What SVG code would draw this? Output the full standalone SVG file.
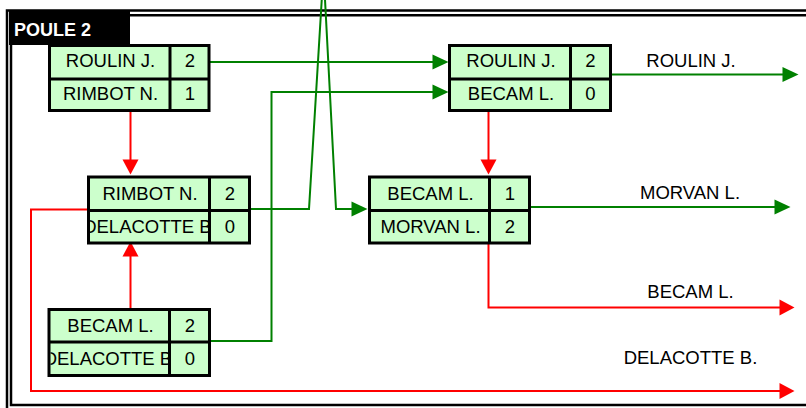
<svg xmlns="http://www.w3.org/2000/svg" width="806" height="408" viewBox="0 0 806 408">
<style>
.frame{fill:none;stroke:#000;stroke-width:2.5}
.cell{fill:#CCFFCC;stroke:#000;stroke-width:3}
.div{stroke:#000;stroke-width:3}
.t{font-family:"Liberation Sans",Arial,sans-serif;font-size:18.5px;fill:#000;text-anchor:middle}
.lbl{font-family:"Liberation Sans",Arial,sans-serif;font-size:18.5px;fill:#000;text-anchor:middle}
.title{font-family:"Liberation Sans",Arial,sans-serif;font-size:18px;font-weight:bold;fill:#fff}
.g{fill:none;stroke:#008000;stroke-width:2;marker-end:url(#ag)}
.r{fill:none;stroke:#FF0000;stroke-width:2;marker-end:url(#ar)}
</style>
<defs>
<marker id="ag" markerUnits="userSpaceOnUse" markerWidth="17" markerHeight="16" refX="0.5" refY="7.5" orient="auto" overflow="visible"><path d="M0,0 L16,7.5 L0,15 z" fill="#008000"/></marker>
<marker id="ar" markerUnits="userSpaceOnUse" markerWidth="17" markerHeight="17" refX="0.5" refY="8" orient="auto" overflow="visible"><path d="M0,0 L15,8 L0,16 z" fill="#FF0000"/></marker>
<clipPath id="c3"><rect x="90" y="212" width="118" height="30"/></clipPath>
<clipPath id="c5"><rect x="50.5" y="343.5" width="117.5" height="30.5"/></clipPath>
</defs>
<rect width="806" height="408" fill="#fff"/>
<path class="frame" d="M7,420 V10.5 H820"/>
<path class="frame" d="M820,15.3 H11 V405 H820"/>
<g id="title">
<rect x="9" y="10" width="121" height="35" fill="#000"/>
<text class="title" x="14" y="36">POULE 2</text>
</g>
<g id="connectors">
<path class="g" d="M210,62 H433"/>
<path class="g" d="M211,341 H271.5 V92 H433"/>
<path class="g" d="M250,209 H309 L323.5,-29 L336,209 H352"/>
<path class="g" d="M611,74.5 H783"/>
<path class="g" d="M530,207 H775"/>
<path class="r" d="M130.5,112 V160"/>
<path class="r" d="M130.5,308 V256"/>
<path class="r" d="M488.5,112 V160"/>
<path class="r" d="M488.5,244 V307.5 H780"/>
<path class="r" d="M88,209.5 H31 V391 H780"/>
</g>
<g id="node1">
<rect class="cell" x="49.5" y="45.5" width="159.5" height="65"/>
<line class="div" x1="170" y1="45.5" x2="170" y2="110.5"/>
<line class="div" x1="49.5" y1="79" x2="209" y2="79"/>
<text class="t" x="110.5" y="67">ROULIN J.</text>
<text class="t" x="190" y="67">2</text>
<text class="t" x="110.5" y="100">RIMBOT N.</text>
<text class="t" x="190" y="100">1</text>
</g>
<g id="node2">
<rect class="cell" x="449.5" y="45.5" width="161" height="65"/>
<line class="div" x1="570.5" y1="45.5" x2="570.5" y2="110.5"/>
<line class="div" x1="449.5" y1="79" x2="610.5" y2="79"/>
<text class="t" x="511" y="67">ROULIN J.</text>
<text class="t" x="590.5" y="67">2</text>
<text class="t" x="511" y="100">BECAM L.</text>
<text class="t" x="590.5" y="100">0</text>
</g>
<g id="node3">
<rect class="cell" x="88.5" y="177" width="161" height="66"/>
<line class="div" x1="209.5" y1="177" x2="209.5" y2="243"/>
<line class="div" x1="88.5" y1="210.5" x2="249.5" y2="210.5"/>
<text class="t" x="150" y="199.5">RIMBOT N.</text>
<text class="t" x="230" y="199.5">2</text>
<text class="t" x="150" y="232.5" clip-path="url(#c3)">DELACOTTE B.</text>
<text class="t" x="230" y="232.5">0</text>
</g>
<g id="node4">
<rect class="cell" x="369.5" y="177" width="160" height="66"/>
<line class="div" x1="489.5" y1="177" x2="489.5" y2="243"/>
<line class="div" x1="369.5" y1="210.5" x2="529.5" y2="210.5"/>
<text class="t" x="430.5" y="199.5">BECAM L.</text>
<text class="t" x="510" y="199.5">1</text>
<text class="t" x="430.5" y="232.5">MORVAN L.</text>
<text class="t" x="510" y="232.5">2</text>
</g>
<g id="node5">
<rect class="cell" x="49" y="309.5" width="160.5" height="66"/>
<line class="div" x1="169.5" y1="309.5" x2="169.5" y2="375.5"/>
<line class="div" x1="49" y1="342" x2="209.5" y2="342"/>
<text class="t" x="110.5" y="331.5">BECAM L.</text>
<text class="t" x="190" y="331.5">2</text>
<text class="t" x="110.5" y="365" clip-path="url(#c5)">DELACOTTE B.</text>
<text class="t" x="190" y="365">0</text>
</g>
<g id="labels">
<text class="lbl" x="691" y="67">ROULIN J.</text>
<text class="lbl" x="690" y="199">MORVAN L.</text>
<text class="lbl" x="690.5" y="298">BECAM L.</text>
<text class="lbl" x="690.5" y="364">DELACOTTE B.</text>
</g>
</svg>
